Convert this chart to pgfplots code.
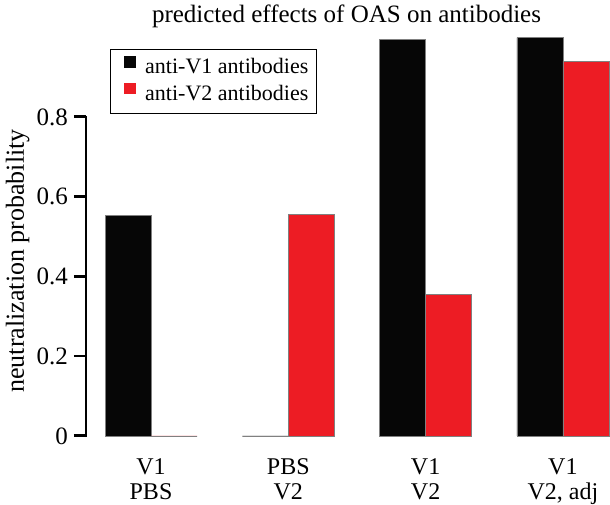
\documentclass[border=0pt]{standalone}
\usepackage{fontspec}
\setmainfont{Liberation Serif}
\usepackage{pgfplots}
\pgfplotsset{compat=1.18}
\definecolor{barred}{RGB}{237,28,36}
\definecolor{barblack}{RGB}{6,6,6}
\begin{document}
\begin{tikzpicture}
\begin{axis}[
  scale only axis,
  width=524bp, height=319bp,
  xmin=-0.4734, xmax=3.343,
  ymin=0, ymax=0.8,
  clip=false,
  axis y line*=left, axis x line*=bottom,
  x axis line style={draw=none},
  y axis line style={line width=2.5bp, draw=black, -},
  xtick={0,1,2,3},
  xticklabels={{V1\\PBS},{PBS\\V2},{V1\\V2},{V1\\V2, adj}},
  xticklabel style={align=center, font=\fontsize{24bp}{25bp}\selectfont, inner sep=0pt, yshift=-10bp},
  major x tick style={draw=none},
  ytick={0,0.2,0.4,0.6,0.8},
  tick align=outside,
  major tick length=12bp,
  major y tick style={line width=2.5bp, draw=black},
  yticklabel={\pgfmathprintnumber{\tick}\hspace{6bp}\rule[\dimexpr0.338em-1.25bp\relax]{12bp}{2.5bp}},
  yticklabel style={font=\fontsize{25bp}{30bp}\selectfont, inner sep=0pt, xshift=12bp},
  /pgf/number format/assume math mode=true,
  ylabel={neutralization probability},
  ylabel style={at={(axis cs:-0.972,0.4389)}, anchor=center, font=\fontsize{26bp}{30bp}\selectfont},
  legend style={at={(axis cs:-0.2986,0.9705)}, anchor=north west, draw=black, line width=0.8bp,
    font=\fontsize{22bp}{26bp}\selectfont, inner xsep=6bp, inner ysep=7bp, row sep=2.6bp,
    nodes={inner sep=2bp, text height=15bp, text depth=4bp}},
  legend cell align=left,
  legend image code/.code={\path (0bp,0bp) (26bp,0bp); \fill[#1, draw=none] (7bp,0.5bp) rectangle (19bp,12bp);},
]
\addplot[ybar, bar width=46bp, fill=barblack, draw=gray, line width=0.8bp, bar shift=-23bp]
  coordinates {(0,0.554) (1,0) (2,0.995) (3,0.999)};
\addplot[ybar, bar width=46bp, fill=barred, draw=gray, line width=0.8bp, bar shift=23bp]
  coordinates {(0,0) (1,0.555) (2,0.354) (3,0.940)};
\legend{anti-V1 antibodies, anti-V2 antibodies}
\node[inner sep=0pt, anchor=south] at ([yshift=-1.25bp]axis cs:-0.4734,0) {\rule{2.5bp}{321.5bp}};
\node[anchor=base, font=\fontsize{25bp}{30bp}\selectfont] at (axis cs:1.424,1.038) {predicted effects of OAS on antibodies};
\coordinate (bbtl) at (axis cs:-1.0998,1.0934);
\coordinate (bbbr) at (axis cs:3.343,-0.1455);
\end{axis}
\path (bbtl) rectangle (bbbr);
\end{tikzpicture}
\end{document}
